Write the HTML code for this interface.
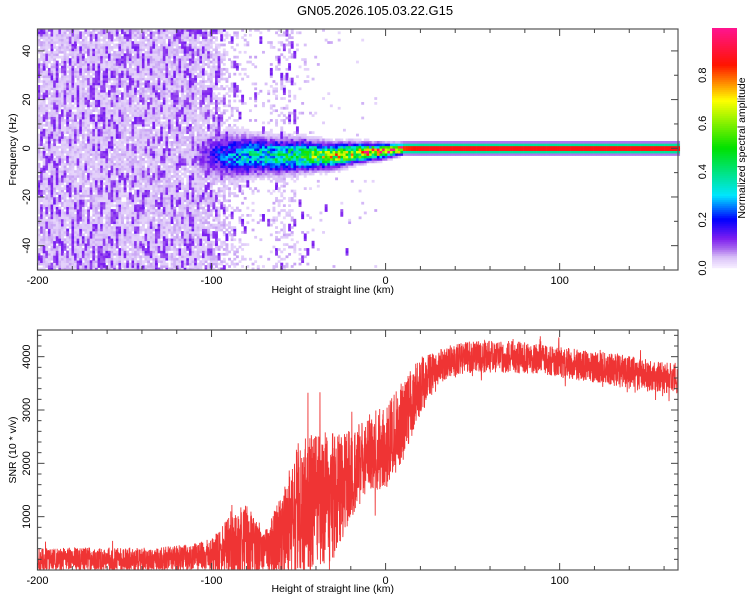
<!DOCTYPE html>
<html><head><meta charset="utf-8">
<style>
html,body{margin:0;padding:0;background:#fff;}
svg{display:block;font-family:"Liberation Sans",sans-serif;}
</style></head>
<body>
<svg id="chart" width="750" height="600" viewBox="0 0 750 600">
<text x="375" y="15" text-anchor="middle" font-size="13" fill="#000">GN05.2026.105.03.22.G15</text>
<g id="heat"></g>
<g id="top-axes"></g>
<g id="snr"></g>
<g id="bot-axes"></g>
<g id="cbar"></g>
</svg>
<script>
// ---- data ----
const profileKm = [-200,-190,-180,-170,-160,-150,-140,-130,-120,-110,-100,-90,-80,-70,-60,-50,-40,-30,-20,-10,0,10,20,30,40,50,60,70,80,90,100,110,120,130,140,150,160,170];
const snrMean   = [200,200,200,200,200,200,200,210,220,240,280,380,520,330,650,1250,1300,1400,1800,2200,2300,2800,3450,3800,3950,4000,4000,4000,3980,3950,3900,3850,3800,3760,3700,3650,3600,3600];
const snrSpread = [220,220,220,220,220,220,220,220,240,260,320,600,750,340,800,1300,1300,1200,850,750,800,750,550,320,300,300,300,300,300,290,290,290,290,300,320,300,290,290];
const noiseDensity = [0.9,0.9,0.9,0.9,0.9,0.9,0.9,0.9,0.9,0.88,0.8,0.35,0.12,0.06,0.4,0.1,0.04,0.02,0.01,0.01,0,0,0,0,0,0,0,0,0,0,0,0,0,0,0,0,0,0];
const sigAmp    = [0,0,0,0,0,0,0,0,0,0.05,0.16,0.25,0.32,0.35,0.4,0.45,0.55,0.62,0.68,0.75,0.82,0.92,0.96,0.96,0.96,0.96,0.96,0.96,0.96,0.96,0.96,0.96,0.96,0.96,0.96,0.96,0.96,0.96];
const sigCenter = [0,0,0,0,0,0,0,0,0,-3,-3,-3,-3,-3,-3,-3,-3,-3,-2,-1.5,-1,0,0,0,0,0,0,0,0,0,0,0,0,0,0,0,0,0];
const sigWidth  = [1,1,1,1,1,1,1,1,1,5,5,5,4.5,4,3.8,3.5,3,2.6,2.2,1.8,1.5,1.1,1.1,1.1,1.1,1.1,1.1,1.1,1.1,1.1,1.1,1.1,1.1,1.1,1.1,1.1,1.1,1.1];
const xTicks = [-200,-100,0,100];
const fTicks = [-40,-20,0,20,40];
const snrTicks = [1000,2000,3000,4000];
const cbTicks = ["0.0","0.2","0.4","0.6","0.8"];

const NS='http://www.w3.org/2000/svg';
function mk(tag,attrs,parent){const e=document.createElementNS(NS,tag);for(const k in attrs)e.setAttribute(k,attrs[k]);parent.appendChild(e);return e;}
// integer hash texture
function h(i,j){let x=(Math.imul(i|0,374761393)+Math.imul(j|0,668265263))|0;x=Math.imul(x^(x>>>13),1274126177);x^=x>>>16;return (x>>>0)/4294967296;}
function interp(arr,km){const t=(km+200)/10;const i=Math.max(0,Math.min(arr.length-2,Math.floor(t)));const f=Math.min(1,Math.max(0,t-i));return arr[i]*(1-f)+arr[i+1]*f;}

const L=37.5,R=678;
const xMin=-200,xMax=168;
const X=v=>L+(v-xMin)/(xMax-xMin)*(R-L);
const T1=29,B1=270,fMin=-50,fMax=49;
const Fy=v=>B1-(v-fMin)/(fMax-fMin)*(B1-T1);
const T2=330,B2=570,sMin=0,sMax=4500;
const Sy=v=>B2-(v-sMin)/(sMax-sMin)*(B2-T2);

const cstops=[[0,[245,235,255]],[0.04,[218,195,248]],[0.08,[165,100,238]],[0.12,[125,30,240]],[0.2,[0,0,255]],[0.3,[0,230,255]],[0.5,[0,225,0]],[0.7,[255,255,0]],[0.85,[255,20,0]],[1,[255,20,140]]];
function cmap(v){v=Math.max(0,Math.min(1,v));for(let i=0;i<cstops.length-1;i++){const a=cstops[i],b=cstops[i+1];if(v<=b[0]){const f=(v-a[0])/(b[0]-a[0]);const c=a[1].map((x,k)=>Math.round(x+(b[1][k]-x)*f));return `rgb(${c[0]},${c[1]},${c[2]})`;}}return 'rgb(255,20,140)';}

// ---- heatmap ----
const heat=document.getElementById('heat');
const dk=1.5, df=1;
for(let km=xMin;km<xMax;km+=dk){
  const nd=interp(noiseDensity,km), amp=interp(sigAmp,km), c=interp(sigCenter,km), w=interp(sigWidth,km);
  const ii=Math.round((km+200)/dk);
  for(let f=fMin;f<fMax;f+=df){
    const jj=Math.round((f+60)/df);
    let v=0;
    const r=h(ii,jj);
    const off=Math.floor(h(ii,7)*3);
    const blob=h(ii+1000,Math.floor((jj+off)/3));
    if(r<nd) v=0.02+0.035*h(ii+5,jj+300);
    if(blob<nd*0.3) v=0.085+0.045*h(ii+50,jj+9);
    if(amp>0){
      const g=Math.exp(-((f+0.5-c)**2)/(2*w*w));
      let s=amp*g;
      if(km<10) s*= (0.6+0.8*h(ii+11,jj+5));
      if(km>=10 && s<0.12 && s>0.02) s=Math.max(s,0.03);
      if(s>v) v=s;
    }
    if(v<0.02) continue;
    const x0=X(km), x1=X(km+dk), y0=Fy(f+df), y1=Fy(f);
    const e=mk('rect',{x:x0.toFixed(2),y:y0.toFixed(2),width:(x1-x0+0.3).toFixed(2),height:(y1-y0+0.3).toFixed(2),fill:cmap(v)},heat);
    
    
  }
}

function axes(g,T,B,yTicksArr,Yf,yMinor,yMinorStep,yLo,yHi,ylabel,labelY){
  mk('rect',{x:L,y:T,width:R-L,height:B-T,fill:'none',stroke:'#555',"stroke-width":1.2},g);
  for(let v=-200;v<=xMax;v+=20){const x=X(v);const big=v%100===0;const len=big?7:4;
    mk('line',{x1:x,y1:B,x2:x,y2:B-len,stroke:'#444'},g);mk('line',{x1:x,y1:T,x2:x,y2:T+len,stroke:'#444'},g);}
  xTicks.forEach(v=>{const t=mk('text',{x:X(v),y:B+14,"text-anchor":"middle","font-size":11},g);t.textContent=v;
    });
  for(let v=yLo;v<=yHi;v+=yMinorStep){const y=Yf(v);const big=yTicksArr.includes(v);const len=big?7:4;
    mk('line',{x1:L,y1:y,x2:L+len,y2:y,stroke:'#444'},g);mk('line',{x1:R,y1:y,x2:R-len,y2:y,stroke:'#444'},g);}
  yTicksArr.forEach(v=>{const y=Yf(v);const t=mk('text',{x:30,y:y,"text-anchor":"middle","font-size":11,transform:`rotate(-90 30 ${y})`},g);t.textContent=v;
    });
  const xl=mk('text',{x:(L+R)/2-25,y:labelY,"text-anchor":"middle","font-size":10.5},g);xl.textContent='Height of straight line (km)';
  
  const cy=(T+B)/2;const yl=mk('text',{x:16,y:cy,"text-anchor":"middle","font-size":10.5,transform:`rotate(-90 16 ${cy})`},g);yl.textContent=ylabel;
  
}
axes(document.getElementById('top-axes'),T1,B1,fTicks,Fy,true,10,-40,40,'Frequency (Hz)',293);

// ---- SNR series ----
const snrG=document.getElementById('snr');
let pts=[];
const N=4000;
for(let i=0;i<=N;i++){
  const km=xMin+(xMax-xMin)*i/N;
  const m=interp(snrMean,km), s=interp(snrSpread,km);
  let r=h(i,17)*2-1;
  if(h(i,91)<0.03) r*=1.6;
  let v=m+s*r;
  v=Math.max(5,Math.min(sMax,v));
  pts.push(X(km).toFixed(2)+','+Sy(v).toFixed(2));
}
const pl=mk('polyline',{points:pts.join(' '),fill:'none',stroke:'#ef3434',"stroke-width":0.9},snrG);


axes(document.getElementById('bot-axes'),T2,B2,snrTicks,Sy,true,200,200,4400,'SNR (10 * v/v)',592);

// ---- colorbar ----
const cb=document.getElementById('cbar');
for(let i=0;i<120;i++){const v=i/119;const y=268-(i+1)*2;
  mk('rect',{x:712,y:y,width:25,height:2.2,fill:cmap(v)},cb);}
cbTicks.forEach((lab,i)=>{const y=268-i*48.2;const t=mk('text',{x:706,y:y,"text-anchor":"middle","font-size":11,transform:`rotate(-90 706 ${y})`},cb);t.textContent=lab;
  });
const ct=mk('text',{x:745,y:148,"text-anchor":"middle","font-size":10.5,transform:'rotate(-90 745 148)'},cb);ct.textContent='Normalized spectral amplitude';


</script>
</body></html>
